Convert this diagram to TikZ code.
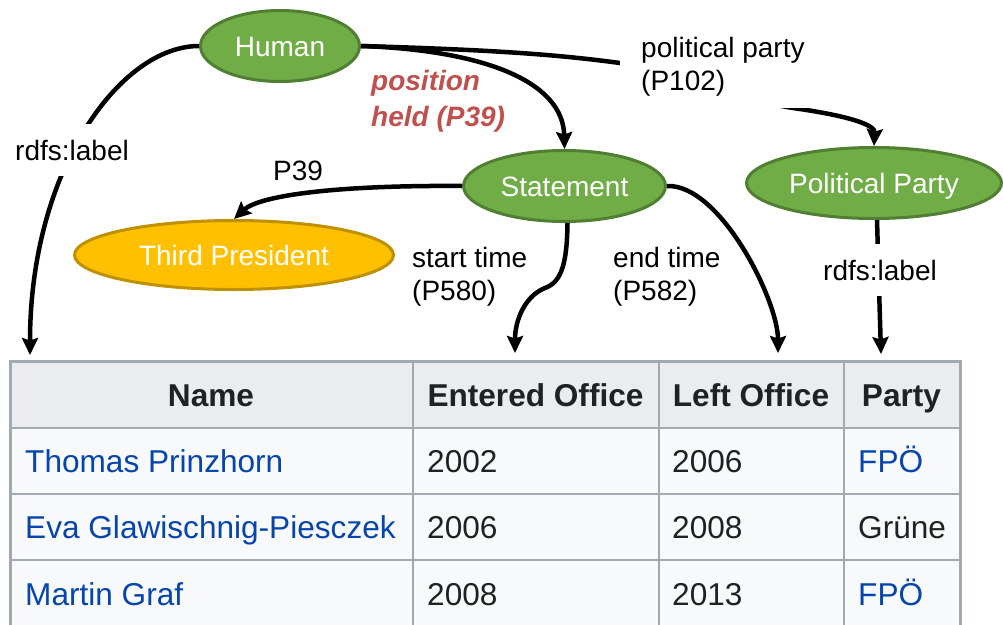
\documentclass[tikz,border=0pt]{standalone}
\usepackage{fontspec}
\setmainfont{Liberation Sans}
\usetikzlibrary{arrows.meta,shapes.geometric}
\definecolor{nodegreen}{HTML}{70AD47}
\definecolor{nodegreenline}{HTML}{507E32}
\definecolor{nodegold}{HTML}{FFC000}
\definecolor{nodegoldline}{HTML}{BF9000}
\definecolor{proplabel}{HTML}{C0504D}
\definecolor{tabborder}{HTML}{A2A9B1}
\definecolor{tabhead}{HTML}{EAECF0}
\definecolor{tabcell}{HTML}{F8F9FA}
\definecolor{tabtext}{HTML}{202122}
\definecolor{tablink}{HTML}{0645AD}
\begin{document}
\begin{tikzpicture}[x=1pt,y=-1pt,
  entity/.style={ellipse, draw=nodegreenline, fill=nodegreen, line width=3pt,
    text=white, font=\fontsize{28}{33}\selectfont, inner sep=0pt,
    text height=20pt, text depth=0pt},
  valuenode/.style={entity, draw=nodegoldline, fill=nodegold},
  rel/.style={line width=4.5pt, -{Stealth[length=17pt,width=16pt,inset=2.5pt]}},
  edgetext/.style={font=\fontsize{28}{33}\selectfont, inner sep=0pt,
    align=left, anchor=north west},
  boxtext/.style={font=\fontsize{28}{33}\selectfont, fill=white, anchor=base west},
  headtext/.style={font=\fontsize{31.6}{38}\selectfont\bfseries, text=tabtext,
    inner sep=0pt, anchor=base},
  celltext/.style={font=\fontsize{31.6}{38}\selectfont, text=tabtext,
    inner sep=0pt, anchor=base west},
  linktext/.style={celltext, text=tablink},
  grid/.style={draw=tabborder, line width=2.5pt},
]
\useasboundingbox (0,0) rectangle (1003,624);

% ---------- table ----------
\fill[tabhead] (10,361) rectangle (960,428);
\fill[tabcell] (10,428) rectangle (960,626);
\draw[grid] (10,428) -- (960,428);
\draw[grid] (10,494) -- (960,494);
\draw[grid] (10,560) -- (960,560);
\draw[grid] (413,361) -- (413,626);
\draw[grid] (659,361) -- (659,626);
\draw[grid] (844,361) -- (844,626);
\draw[draw=tabborder, line width=3pt] (10.5,626) -- (10.5,361.5) -- (960,361.5) -- (960,626);

\node[headtext] (hName)  at (211,406)   {Name};
\node[headtext] (hEnter) at (535.5,406) {Entered Office};
\node[headtext] (hLeft)  at (751,406)   {Left Office};
\node[headtext] (hParty) at (901.5,406) {Party};

\node[linktext] (n1) at (25,472)  {Thomas Prinzhorn};
\node[celltext] (s1) at (427,472) {2002};
\node[celltext] (l1) at (672,472) {2006};
\node[linktext] (p1) at (858,472) {FPÖ};

\node[linktext] (n2) at (25,538.5)  {Eva Glawischnig-Piesczek};
\node[celltext] (s2) at (427,538.5) {2006};
\node[celltext] (l2) at (672,538.5) {2008};
\node[celltext] (p2) at (858,538.5) {Grüne};

\node[linktext] (n3) at (25,605)  {Martin Graf};
\node[celltext] (s3) at (427,605) {2008};
\node[celltext] (l3) at (672,605) {2013};
\node[linktext] (p3) at (858,605) {FPÖ};

% arrow targets above the column headers
\coordinate (tName)  at (30,355);
\coordinate (tEnter) at (515,353);
\coordinate (tLeft)  at (778,353);
\coordinate (tParty) at (881,354);

% ---------- graph nodes ----------
\node[entity, minimum width=159pt, minimum height=71pt] (human) at (280,46) {Human};
\node[entity, minimum width=202pt, minimum height=71pt] (statement) at (564.5,186) {Statement};
\node[entity, minimum width=255pt, minimum height=71pt] (party) at (874,183) {Political Party};
\node[valuenode, minimum width=319pt, minimum height=69pt] (third) at (234,255) {Third President};

% ---------- connectors ----------
\draw[rel] (human.west) .. controls (120,46) and (30,170) .. (tName);
\draw[rel] (human.east) .. controls (480,50) and (563,80) .. (statement.north);
\draw[rel] (human.east) .. controls (500,50) and (560,55) .. (620,63)
      .. controls (680,71) and (740,100) .. (793,108)
      .. controls (850,116) and (875,125) .. (party.north);
\draw[rel] (statement.west) .. controls (340,185) and (260,195) .. (third.north);
\draw[rel] ([xshift=3pt]statement.south) .. controls (567,262) and (562,282) .. (545,288)
      .. controls (525,296) and (515,320) .. (tEnter);
\draw[rel] (statement.east) .. controls (720,184) and (778,300) .. (tLeft);
\draw[rel] ([xshift=3pt]party.south) -- (tParty);

% ---------- connector labels ----------
\node[boxtext, inner xsep=14pt, inner ysep=16pt] (lblName) at (1,160) {rdfs:label};
\node[boxtext, inner xsep=10pt, inner ysep=16pt] (lblParty) at (813,280) {rdfs:label};
\node[edgetext, fill=white, inner xsep=21pt, inner ysep=11pt, anchor=north west]
  (lblP102) at (620,26.5) {political party\\(P102)};
\node[edgetext, font=\fontsize{28}{36}\selectfont\bfseries\itshape, text=proplabel]
  (lblP39held) at (371,70) {position\\held (P39)};
\node[font=\fontsize{28}{33}\selectfont, inner sep=0pt, anchor=base west] (lblP39) at (273,180) {P39};
\node[edgetext] (lblStart) at (412,247) {start time\\(P580)};
\node[edgetext] (lblEnd) at (613,247) {end time\\(P582)};
\end{tikzpicture}
\end{document}
